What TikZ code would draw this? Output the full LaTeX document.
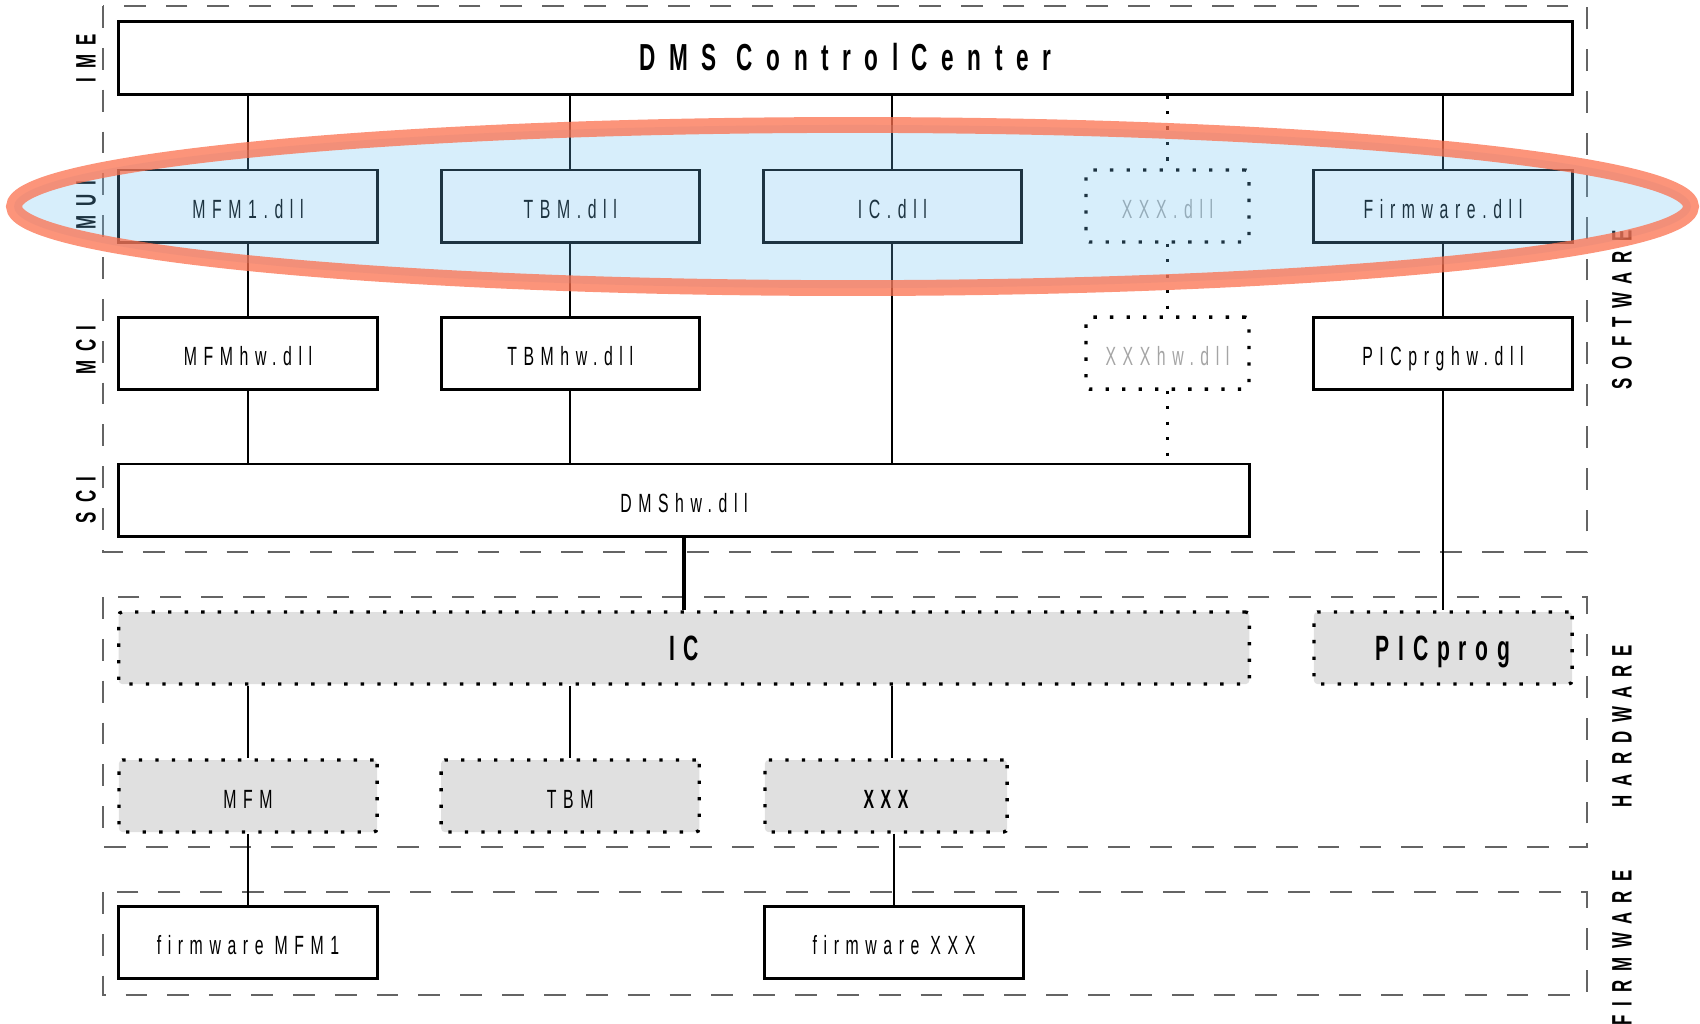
\documentclass[tikz,border=0pt]{standalone}
\usepackage{fontspec}
\usetikzlibrary{positioning}
\newfontfamily\narrowsf[FakeStretch=0.6,LetterSpace=25]{Liberation Sans}
\newfontfamily\widesf[FakeStretch=0.6,LetterSpace=36]{Liberation Sans}
\newfontfamily\layersf[FakeStretch=0.6,LetterSpace=32]{Liberation Sans}
\definecolor{hwgray}{RGB}{224,224,224}
\definecolor{framegray}{RGB}{100,100,100}
\definecolor{skyfill}{RGB}{109,192,241}
\definecolor{salmon}{RGB}{251,112,78}
\definecolor{tbdtext}{RGB}{165,165,165}

\tikzset{
  blk/.style={rectangle,minimum width=2.58cm,minimum height=0.72cm,inner sep=0pt,
    text height=0.72em,text depth=0pt,font=\narrowsf\fontsize{7.5}{9}\selectfont},
  swbox/.style={blk,draw,line width=0.85pt,fill=white},
  tbdbox/.style={blk,draw,line width=0.95pt,dash pattern=on 0.95pt off 3.75pt,
    rounded corners=1pt,text=tbdtext},
  hwbox/.style={blk,draw,line width=0.95pt,dash pattern=on 0.95pt off 3.75pt,
    rounded corners=1pt,fill=hwgray},
  big/.style={font=\narrowsf\bfseries\fontsize{10}{12}\selectfont},
  lyr/.style={rotate=90,font=\layersf\bfseries\fontsize{8}{10}\selectfont},
  link/.style={line width=0.6pt},
  tbdlink/.style={line width=0.9pt,dash pattern=on 0.9pt off 3.5pt},
  region/.style={draw=framegray,line width=0.5pt,dash pattern=on 6.2pt off 5.7pt}
}

\begin{document}
\begin{tikzpicture}[x=0.01cm,y=-0.01cm,node distance=3.22cm]
\useasboundingbox (0,0) rectangle (1700,1023);

% layer frames
\draw[region] (103,6) rectangle (1587,552);
\draw[region] (103,597) rectangle (1587,847);
\draw[region] (103,892) rectangle (1587,995);

% software
\node[swbox,minimum width=14.53cm,font=\widesf\bfseries\fontsize{10.7}{13}\selectfont]
  (dms) at (845.5,58) {DMS ControlCenter};
\node[swbox] (mfm_dll) at (248,206) {MFM1.dll};
\node[swbox] (tbm_dll) [right of=mfm_dll] {TBM.dll};
\node[swbox] (ic_dll) [right of=tbm_dll] {IC.dll};
\node[tbdbox,minimum width=1.63cm] (xxx_dll) at (1167.5,206) {XXX.dll};
\node[swbox] (fw_dll) at (1443,206) {Firmware.dll};

\node[swbox] (mfm_hw) [below of=mfm_dll,node distance=1.47cm] {MFMhw.dll};
\node[swbox] (tbm_hw) [below of=tbm_dll,node distance=1.47cm] {TBMhw.dll};
\node[tbdbox,minimum width=1.63cm] (xxx_hw) [below of=xxx_dll,node distance=1.47cm] {XXXhw.dll};
\node[swbox] (pic_hw) [below of=fw_dll,node distance=1.47cm] {PICprghw.dll};
\node[swbox,minimum width=11.3cm] (dms_hw) at (684,500) {DMShw.dll};

% hardware
\node[hwbox,big,minimum width=11.3cm] (ic) at (684,648) {IC};
\node[hwbox,big] (pic) at (1443,648) {PICprog};
\node[hwbox] (mfm) at (248,796) {MFM};
\node[hwbox] (tbm) [right of=mfm] {TBM};
\node[hwbox,minimum width=2.42cm,font=\narrowsf\bfseries\fontsize{7.5}{9}\selectfont]
  (xxx) at (886,796) {XXX};

% firmware
\node[swbox] (fw_mfm) at (248,942) {firmware MFM1};
\node[swbox] (fw_xxx) at (894,942) {firmware XXX};

% layer names
\node[lyr] (ime) at (86,58) {IME};
\node[lyr] (mui) at (86,205) {MUI};
\node[lyr] (mci) at (86,350) {MCI};
\node[lyr] (sci) at (86,500) {SCI};
\node[lyr] (sw) at (1622,310) {SOFTWARE};
\node[lyr] (hw) at (1622,726) {HARDWARE};
\node[lyr] (fw) at (1622,948) {FIRMWARE};

\path[link] (dms.south -| mfm_dll) edge (mfm_dll)
  (dms.south -| tbm_dll) edge (tbm_dll)
  (dms.south -| ic_dll) edge (ic_dll)
  (dms.south -| fw_dll) edge (fw_dll)
  (mfm_dll) edge (mfm_hw)
  (tbm_dll) edge (tbm_hw)
  (fw_dll) edge (pic_hw)
  (mfm_hw) edge (mfm_hw |- dms_hw.north)
  (tbm_hw) edge (tbm_hw |- dms_hw.north)
  (ic_dll) edge (ic_dll |- dms_hw.north)
  (pic_hw) edge (pic)
  (ic.south -| mfm) edge (mfm)
  (ic.south -| tbm) edge (tbm)
  (ic.south -| ic_dll) edge (xxx.north -| ic_dll)
  (mfm) edge (fw_mfm)
  (xxx.south -| fw_xxx) edge (fw_xxx);
\path[tbdlink] (dms.south -| xxx_dll) edge (xxx_dll)
  (xxx_dll) edge (xxx_hw)
  (xxx_hw) edge (xxx_hw |- dms_hw.north);
\draw[line width=1.2pt] (dms_hw) -- (ic);

% highlight
\draw[draw=salmon,draw opacity=0.75,line width=4.5pt,fill=skyfill,fill opacity=0.27]
  (852.5,206.5) ellipse [x radius=8.38cm,y radius=0.815cm];
\end{tikzpicture}
\end{document}
